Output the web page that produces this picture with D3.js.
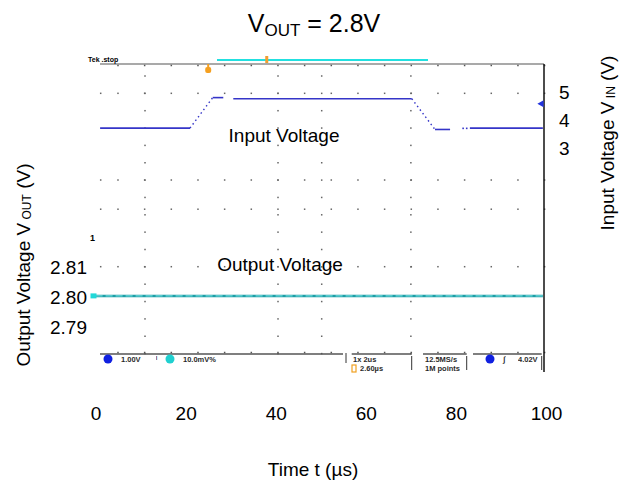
<!DOCTYPE html>
<html lang="en">
<head>
<meta charset="utf-8">
<title>VOUT = 2.8V</title>
<script src="https://d3js.org/d3.v7.min.js"></script>
<style>
  body { margin: 0; background: #fff; }
  text { font-family: "Liberation Sans", Arial, sans-serif; fill: #000; }
</style>
</head>
<body>
<script>
// time axis ticks (us)
var timeTicks = [0, 20, 40, 60, 80, 100];
// left axis (output voltage) and right axis (input voltage) ticks
var voutTicks = [2.81, 2.80, 2.79];
var vinTicks = [5, 4, 3];

// input voltage trace: [t (us), V]
var vinSolid = [
  [[1.0, 3.72], [20.96, 3.72]],
  [[26.0, 4.81], [28.35, 4.81]],
  [[30.57, 4.77], [70.2, 4.77]],
  [[75.35, 3.67], [78.7, 3.67]],
  [[83.1, 3.72], [99.3, 3.72]]
];
var vinRamps = [
  [[20.96, 3.72], [26.0, 4.81]],
  [[70.2, 4.77], [75.35, 3.67]]
];
var vinDots = [[81.6, 3.71], [82.4, 3.71]];

// output voltage trace
var voutTrace = [[0, 2.8005], [99.3, 2.8005]];

// scope graticule
var gridCols = [10.97, 40.5, 50.2, 70.0];          // dotted vertical lines (us)
var gridRows = [2.8678, 2.839, 2.8293, 2.8102];    // dotted rows (V out)

var W = 626, H = 485;
var svg = d3.select('body').append('svg').attr('width', W).attr('height', H);

var x = d3.scaleLinear().domain([0, 100]).range([95.6, 546]);
var yOut = d3.scaleLinear().domain([2.79, 2.81]).range([327.5, 267.3]);
var yIn = d3.scaleLinear().domain([3, 5]).range([148.2, 92.3]);

var frameTop = 64, frameBottom = 354, frameLeft = 100, frameRight = 544;

// ---- graticule dots
var g = svg.append('g');
var rowDotsT = [1.13].concat(d3.range(17).map(function (k) { return 4.97 + 5.92 * k; }));
gridRows.forEach(function (r) {
  g.selectAll(null).data(rowDotsT).enter().append('rect')
    .attr('x', function (d) { return x(d) - 0.75; })
    .attr('y', yOut(r) - 0.75)
    .attr('width', 1.5).attr('height', 1.5).attr('fill', '#666');
});
gridCols.forEach(function (c) {
  g.selectAll(null).data(d3.range(76, frameBottom, 17.35)).enter().append('rect')
    .attr('x', x(c) - 0.75)
    .attr('y', function (d) { return d - 0.75; })
    .attr('width', 1.5).attr('height', 1.5).attr('fill', '#666');
});
// dots along top and bottom frame lines
[frameTop + 1.5, frameBottom - 1.5].forEach(function (yy) {
  g.selectAll(null).data(rowDotsT.slice(1)).enter().append('rect')
    .attr('x', function (d) { return x(d) - 0.75; })
    .attr('y', yy - 0.75).attr('width', 1.5).attr('height', 1.5).attr('fill', '#555');
});

// ---- scope frame
svg.append('line').attr('x1', frameLeft).attr('x2', frameRight).attr('y1', frameTop).attr('y2', frameTop)
  .attr('stroke', '#555').attr('stroke-width', 1.2);
svg.append('line').attr('x1', frameRight).attr('x2', frameRight).attr('y1', frameTop).attr('y2', 372)
  .attr('stroke', '#111').attr('stroke-width', 1.5);
[[frameLeft, 343], [351.7, 411.7], [423, 466.7], [473, 541.7]].forEach(function (s) {
  svg.append('line').attr('x1', s[0]).attr('x2', s[1]).attr('y1', frameBottom).attr('y2', frameBottom)
    .attr('stroke', '#555').attr('stroke-width', 1.5);
});
[[346, 353, 363], [466.7, 356, 370], [411.7, 356, 370], [541.7, 356, 370]].forEach(function (s) {
  svg.append('line').attr('x1', s[0]).attr('x2', s[0]).attr('y1', s[1]).attr('y2', s[2])
    .attr('stroke', '#333').attr('stroke-width', 1);
});

// top bar, trigger markers
svg.append('line').attr('x1', x(26.95)).attr('x2', x(73.8)).attr('y1', 60).attr('y2', 60)
  .attr('stroke', '#22e0e0').attr('stroke-width', 2);
svg.append('rect').attr('x', x(38) - 1.5).attr('y', 56).attr('width', 3).attr('height', 7).attr('fill', '#f0a030');
svg.append('rect').attr('x', x(25) - 3).attr('y', 67).attr('width', 6).attr('height', 6).attr('rx', 2).attr('fill', '#f5a020');
svg.append('rect').attr('x', x(25) - 1).attr('y', 64).attr('width', 2).attr('height', 3).attr('fill', '#f5a020');
svg.append('text').attr('x', 88).attr('y', 62).style('font-size', '7px').style('font-weight', 'bold')
  .attr('fill', '#222').text('Tek .stop');

// ---- traces
var lineIn = d3.line().x(function (d) { return x(d[0]); }).y(function (d) { return yIn(d[1]); });
svg.selectAll('.vin').data(vinSolid).enter().append('path')
  .attr('d', lineIn).attr('fill', 'none').attr('stroke', '#3535c8').attr('stroke-width', 1.6);
svg.selectAll('.ramp').data(vinRamps).enter().append('path')
  .attr('d', lineIn).attr('fill', 'none').attr('stroke', '#3535c8').attr('stroke-width', 1.4)
  .attr('stroke-dasharray', '1.5,3');
svg.selectAll('.vdot').data(vinDots).enter().append('rect')
  .attr('x', function (d) { return x(d[0]) - 0.8; }).attr('y', function (d) { return yIn(d[1]) - 0.8; })
  .attr('width', 1.6).attr('height', 1.6).attr('fill', '#3535c8');

var lineOut = d3.line().x(function (d) { return x(d[0]); }).y(function (d) { return yOut(d[1]); });
svg.append('path').datum(voutTrace).attr('d', lineOut).attr('fill', 'none')
  .attr('stroke', '#1f9ea6').attr('stroke-width', 2.5);
svg.append('path').datum(voutTrace).attr('d', lineOut).attr('fill', 'none')
  .attr('stroke', '#7fe6e6').attr('stroke-width', 1).attr('stroke-dasharray', '7,3');

// channel markers
svg.append('rect').attr('x', 90.5).attr('y', yOut(2.8005) - 2.5).attr('width', 6).attr('height', 5)
  .attr('fill', '#22d8d8');
svg.append('text').attr('x', 90).attr('y', 241).style('font-size', '9px').style('font-weight', 'bold')
  .attr('fill', '#2233dd').text('1');
svg.append('path').attr('d', d3.symbol(d3.symbolTriangle, 22)())
  .attr('transform', 'translate(' + (frameRight - 2.5) + ',' + yIn(4.59) + ') rotate(-90)')
  .attr('fill', '#2233dd');

// ---- status bar
function statusText(xx, yy, txt, col) {
  svg.append('text').attr('x', xx).attr('y', yy).style('font-size', '7.5px').style('font-weight', 'bold')
    .attr('fill', col).attr('opacity', 0.85).text(txt);
}
svg.append('circle').attr('cx', 108).attr('cy', 359).attr('r', 4.5).attr('fill', '#1020e0');
statusText(121, 362, '1.00V', '#3344dd');
statusText(156, 362, '\u02E1', '#3344dd');
svg.append('circle').attr('cx', 170).attr('cy', 359).attr('r', 4.5).attr('fill', '#20d0d0');
statusText(183, 362, '10.0mV%', '#20c8c8');
statusText(353, 362, '1x 2us', '#222');
svg.append('rect').attr('x', 352).attr('y', 365).attr('width', 4).attr('height', 7).attr('fill', 'none')
  .attr('stroke', '#f0a020').attr('stroke-width', 1.2);
statusText(360, 371, '2.60\u00B5s', '#f0a020');
statusText(425, 362, '12.5MS/s', '#222');
statusText(425, 371, '1M points', '#222');
svg.append('circle').attr('cx', 490).attr('cy', 359).attr('r', 4.5).attr('fill', '#1020e0');
statusText(503, 362, '\u222B', '#222');
statusText(518, 362, '4.02V', '#444');

// ---- axes (text only)
function styleAxis(sel) {
  sel.select('.domain').remove();
  sel.selectAll('text').style('font-size', '19px')
    .style('font-family', '"Liberation Sans", Arial, sans-serif').attr('fill', '#000');
}
var axisX = d3.axisBottom(x).tickValues(timeTicks).tickSize(0).tickPadding(0);
svg.append('g').attr('transform', 'translate(0,406)').call(axisX).call(styleAxis);

var axisL = d3.axisLeft(yOut).tickValues(voutTicks).tickFormat(d3.format('.2f')).tickSize(0).tickPadding(0);
svg.append('g').attr('transform', 'translate(87,0)').call(axisL).call(styleAxis);

var axisR = d3.axisRight(yIn).tickValues(vinTicks).tickFormat(d3.format('d')).tickSize(0).tickPadding(0);
svg.append('g').attr('transform', 'translate(559,0)').call(axisR).call(styleAxis);

// ---- titles and labels
var title = svg.append('text').attr('x', 314).attr('y', 32).attr('text-anchor', 'middle');
title.append('tspan').style('font-size', '25px').text('V');
title.append('tspan').style('font-size', '17px').attr('dy', 4).text('OUT');
title.append('tspan').style('font-size', '25px').attr('dy', -4).text(' = 2.8V');

svg.append('text').attr('x', 313).attr('y', 476).attr('text-anchor', 'middle')
  .style('font-size', '19px').text('Time t (\u00B5s)');

var lt = svg.append('text').attr('transform', 'translate(30,265) rotate(-90)').attr('text-anchor', 'middle');
lt.append('tspan').style('font-size', '19px').text('Output Voltage V');
lt.append('tspan').style('font-size', '12px').attr('dy', 1).text(' OUT');
lt.append('tspan').style('font-size', '19px').attr('dy', -1).text(' (V)');

var rt = svg.append('text').attr('transform', 'translate(614,143) rotate(-90)').attr('text-anchor', 'middle');
rt.append('tspan').style('font-size', '19px').text('Input Voltage V');
rt.append('tspan').style('font-size', '12px').attr('dy', 1).text(' IN');
rt.append('tspan').style('font-size', '19px').attr('dy', -1).text(' (V)');

svg.append('text').attr('x', 284).attr('y', 142).attr('text-anchor', 'middle')
  .style('font-size', '19px').text('Input Voltage');
svg.append('text').attr('x', 280).attr('y', 271).attr('text-anchor', 'middle')
  .style('font-size', '19px').text('Output Voltage');
</script>
</body>
</html>
